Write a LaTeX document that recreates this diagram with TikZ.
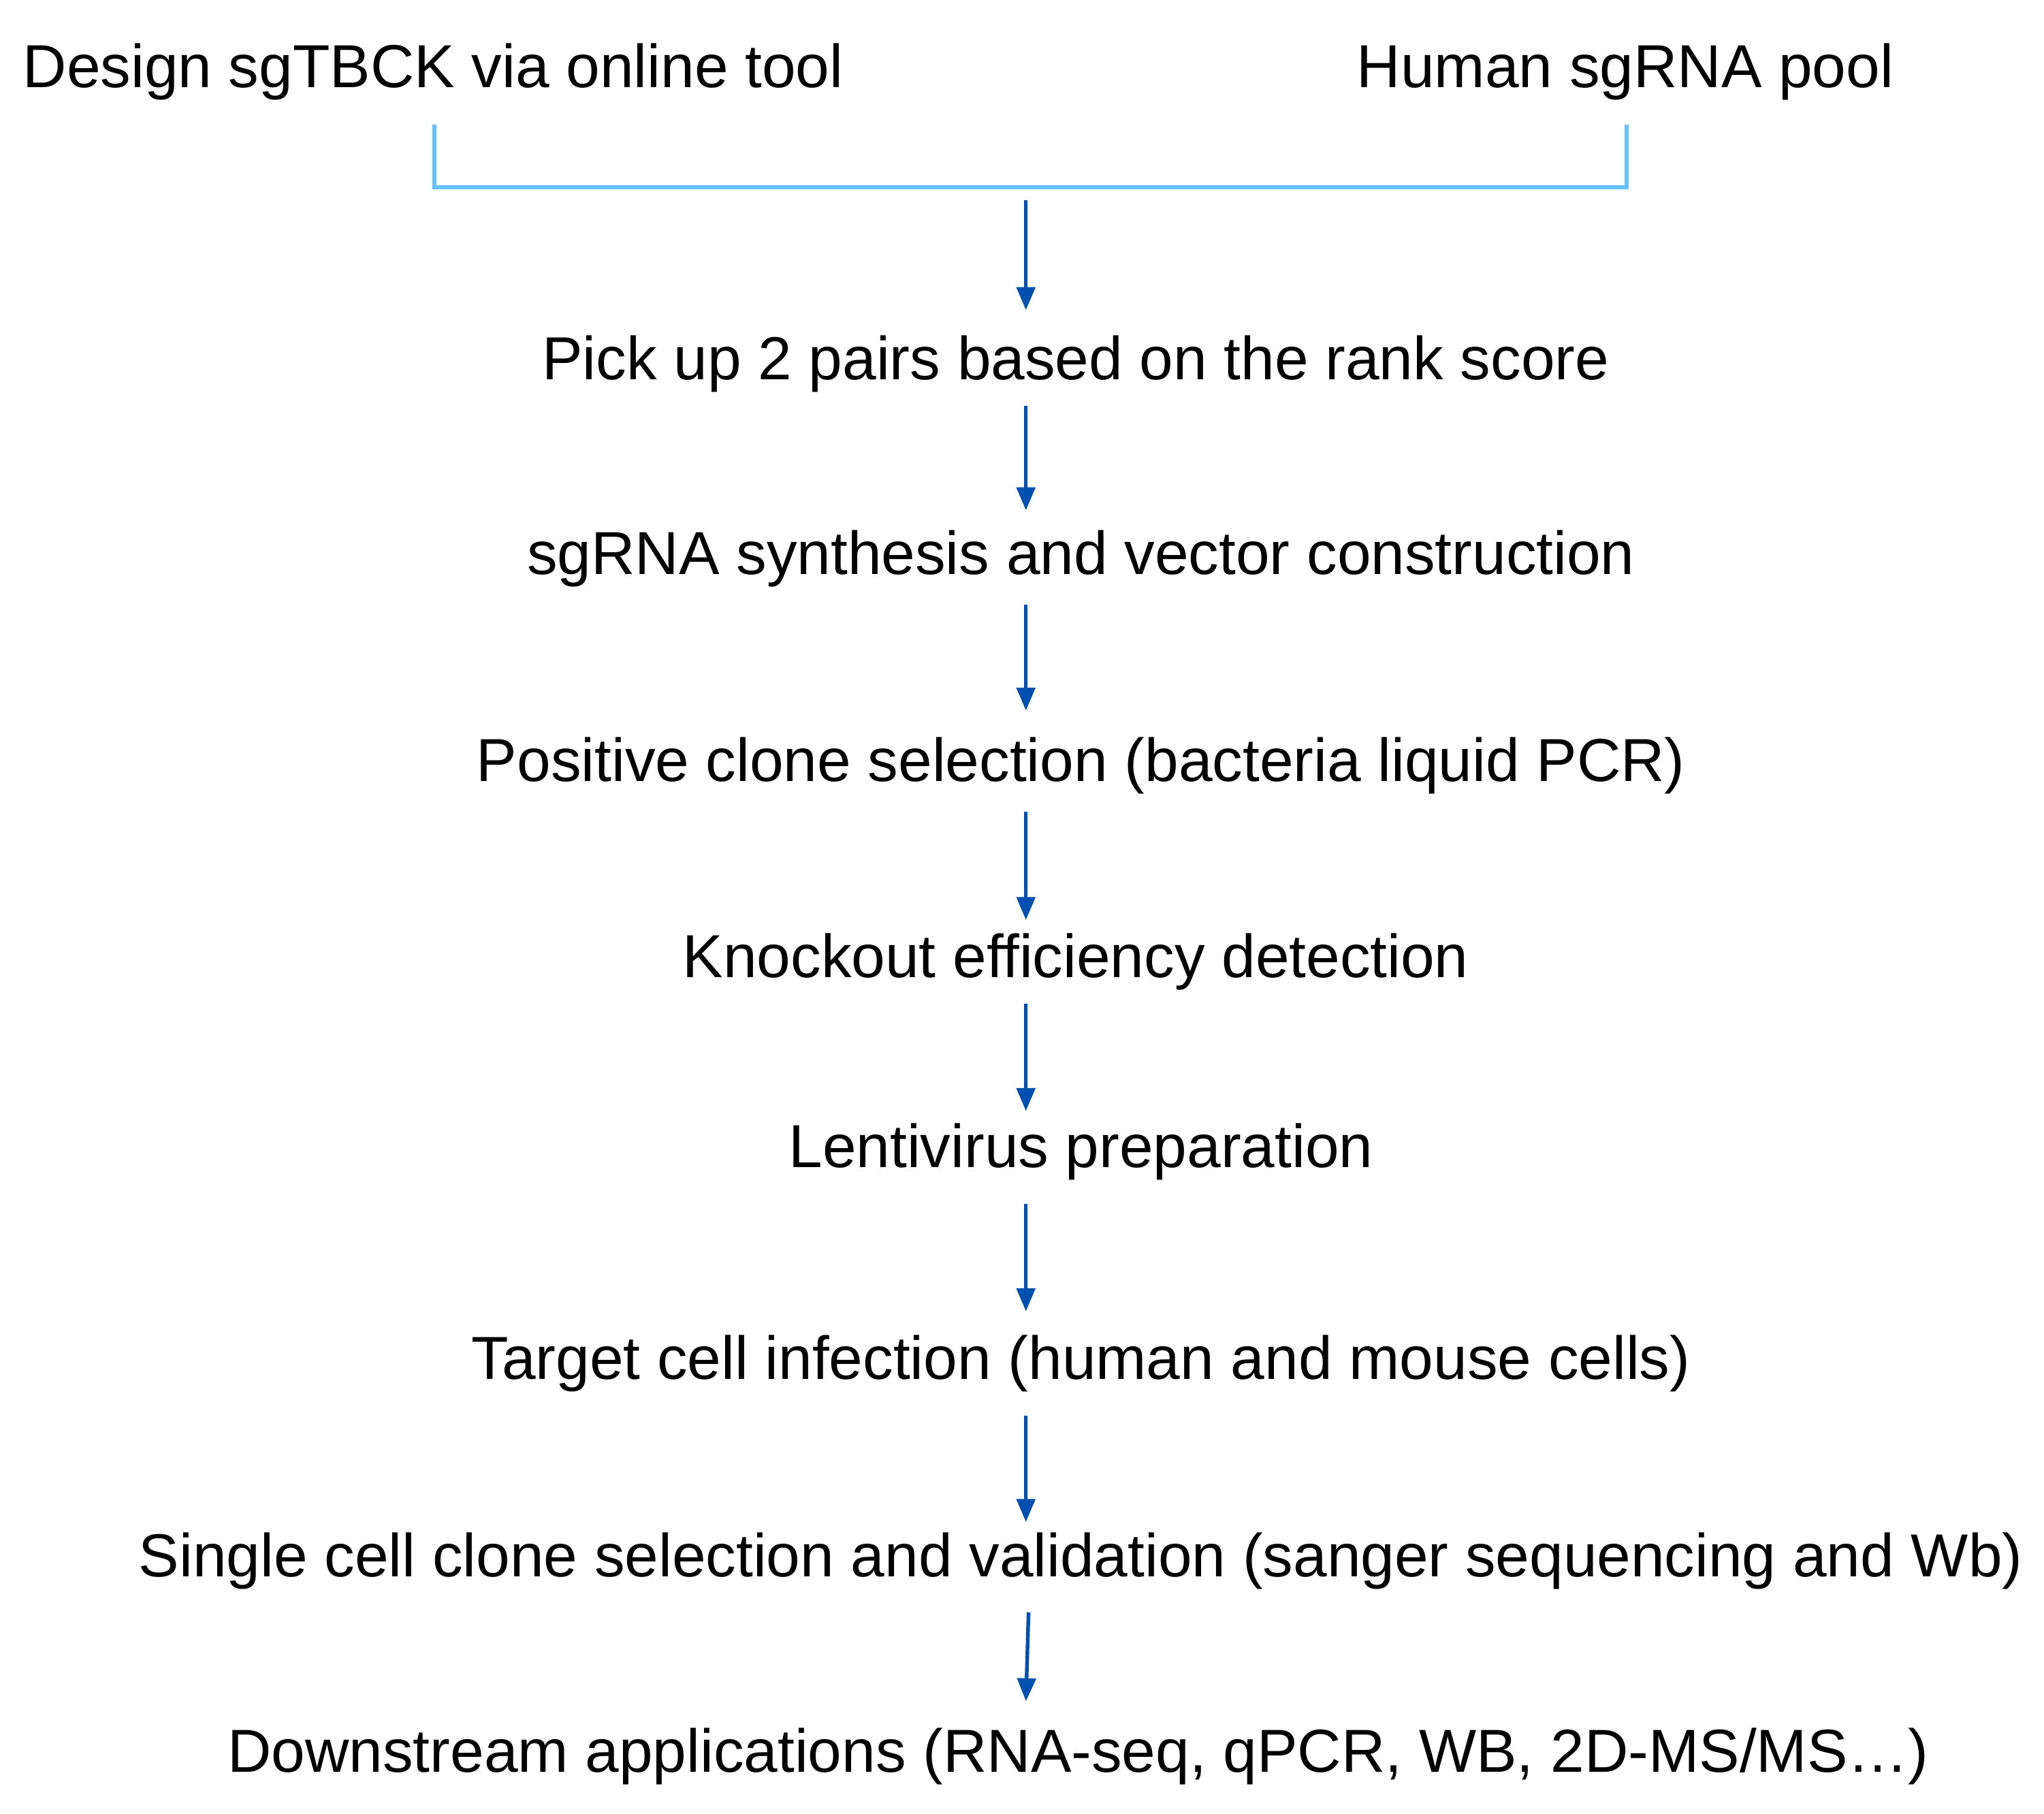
\documentclass[tikz,border=0pt]{standalone}
\usepackage{fontspec}
\setmainfont{Liberation Sans}
\usetikzlibrary{arrows.meta}
\begin{document}
\begin{tikzpicture}[x=0.01cm,y=-0.01cm,
  lab/.style={inner sep=0pt,font=\fontsize{13.2pt}{15pt}\selectfont},
  arr/.style={draw=blue!55!cyan!70!black,line width=0.8pt,-{Triangle[width=4pt,length=5pt]}},
  brk/.style={draw=blue!40!cyan!60!white,line width=0.8pt}]
\useasboundingbox (0,0) rectangle (1562,1386);
\node[lab] (a) at (331,55) {Design sgTBCK via online tool};
\node[lab] (b) at (1242,55) {Human sgRNA pool};
\node[lab] (n1) at (822,278) {Pick up 2 pairs based on the rank score};
\node[lab] (n2) at (826,427) {sgRNA synthesis and vector construction};
\node[lab] (n3) at (826,585) {Positive clone selection (bacteria liquid PCR)};
\node[lab] (n4) at (822,735) {Knockout efficiency detection};
\node[lab] (n5) at (826,880) {Lentivirus preparation};
\node[lab] (n6) at (826,1042) {Target cell infection (human and mouse cells)};
\node[lab] (n7) at (826,1193) {Single cell clone selection and validation (sanger sequencing and Wb)};
\node[lab] (n8) at (824,1342) {Downstream applications (RNA-seq, qPCR, WB, 2D-MS/MS\ldots)};
\coordinate (ba) at (332,95); \coordinate (bb) at (1243,95);
\draw[brk] (ba) -- (332,143) -- (1243,143) -- (bb);
\coordinate (s0) at (784,153); \coordinate (e0) at (784,237);
\coordinate (s1) at (784,310); \coordinate (e1) at (784,390);
\coordinate (s2) at (784,462); \coordinate (e2) at (784,543);
\coordinate (s3) at (784,620); \coordinate (e3) at (784,703);
\coordinate (s4) at (784,767); \coordinate (e4) at (784,849);
\coordinate (s5) at (784,920); \coordinate (e5) at (784,1002);
\coordinate (s6) at (784,1082); \coordinate (e6) at (784,1163);
\coordinate (s7) at (786,1232); \coordinate (e7) at (784,1300);
\foreach \i in {0,...,7} \draw[arr] (s\i) -- (e\i);
\end{tikzpicture}
\end{document}
